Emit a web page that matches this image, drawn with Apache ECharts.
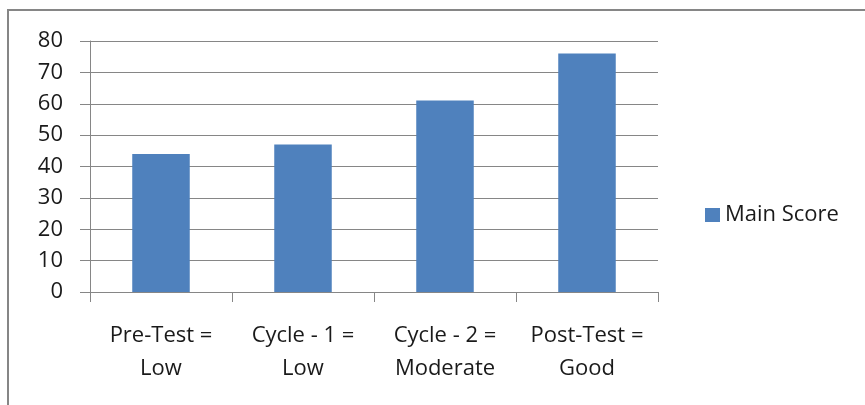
<!DOCTYPE html>
<html>
<head>
<meta charset="utf-8">
<script src="https://cdn.jsdelivr.net/npm/echarts@6/dist/echarts.min.js"></script>
<style>
  html, body { margin: 0; padding: 0; background: #fff; }
  #main { width: 865px; height: 405px; }
</style>
</head>
<body>
<div id="main"></div>
<script>
// data
const categories = ['Pre-Test =\nLow', 'Cycle - 1 =\nLow', 'Cycle - 2 =\nModerate', 'Post-Test =\nGood'];
const mainScore = [44, 47, 61, 76];
const seriesName = 'Main Score';

const chart = echarts.init(document.getElementById('main'));
const font = 'Open Sans';
const option = {
  backgroundColor: '#fff',
  animation: false,
  graphic: [
    {
      type: 'rect',
      shape: { x: 8, y: 10, width: 900, height: 450 },
      style: { fill: 'none', stroke: '#868686', lineWidth: 2 }
    }
  ],
  grid: { left: 90, right: 207, top: 41, bottom: 113 },
  legend: {
    data: [seriesName],
    orient: 'vertical',
    left: 700,
    top: 199,
    itemWidth: 15,
    itemHeight: 14,
    itemGap: 8,
    icon: 'rect',
    textStyle: { fontFamily: font, fontSize: 22, color: '#1a1a1a' }
  },
  xAxis: {
    type: 'category',
    data: categories,
    axisLine: { lineStyle: { color: '#868686', width: 1 } },
    axisTick: { show: true, length: 10, alignWithLabel: false, lineStyle: { color: '#868686' } },
    axisLabel: {
      margin: 27,
      interval: 0,
      fontFamily: font,
      fontSize: 22,
      lineHeight: 33,
      color: '#1a1a1a'
    }
  },
  yAxis: {
    type: 'value',
    min: 0,
    max: 80,
    interval: 10,
    axisLine: { show: true, lineStyle: { color: '#868686' } },
    axisTick: { show: true, length: 10, lineStyle: { color: '#868686' } },
    splitLine: { lineStyle: { color: '#868686' } },
    axisLabel: { margin: 27, fontFamily: font, fontSize: 22, color: '#1a1a1a' }
  },
  series: [
    {
      name: seriesName,
      type: 'bar',
      data: mainScore,
      barWidth: '40.5%',
      itemStyle: { color: '#4F81BD' }
    }
  ]
};
chart.setOption(option);
</script>
</body>
</html>
